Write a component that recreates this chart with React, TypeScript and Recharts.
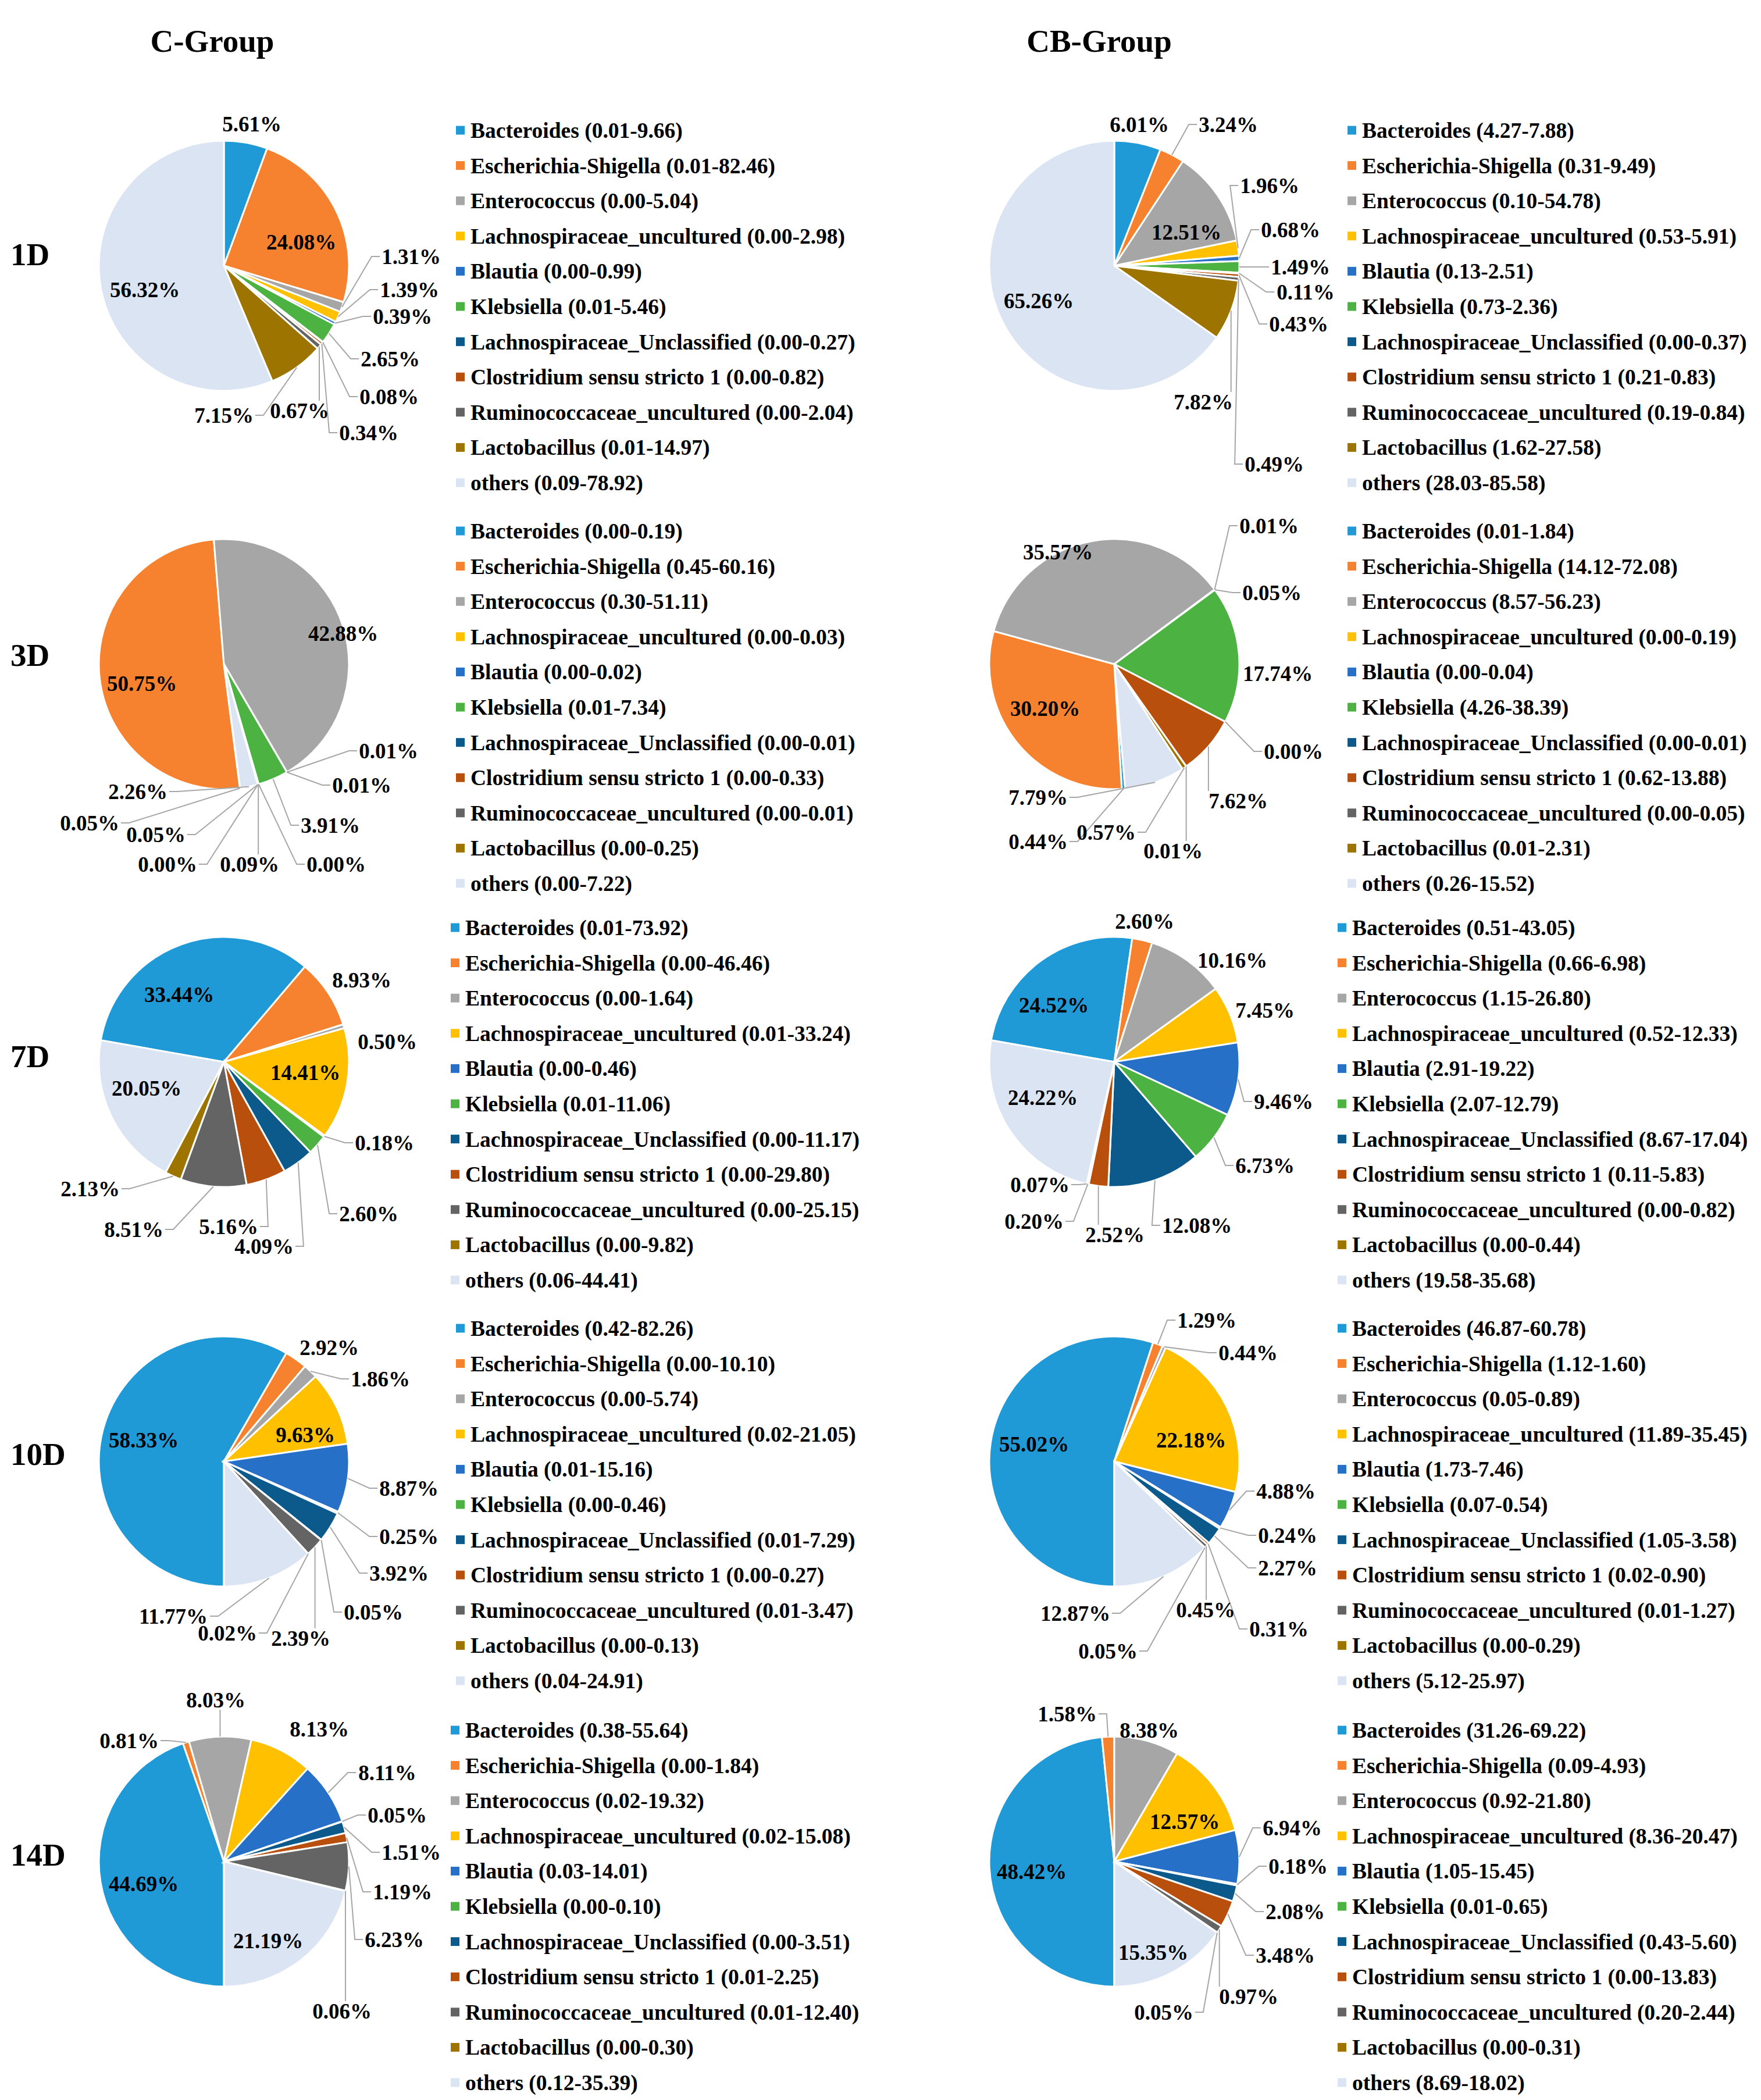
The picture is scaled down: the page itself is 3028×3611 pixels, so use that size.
import React from "react";
import { PieChart, Pie, Cell } from "recharts";

// genera shown in every pie, in slice order (clockwise)
const TAXA = [
  "Bacteroides",
  "Escherichia-Shigella",
  "Enterococcus",
  "Lachnospiraceae_uncultured",
  "Blautia",
  "Klebsiella",
  "Lachnospiraceae_Unclassified",
  "Clostridium sensu stricto 1",
  "Ruminococcaceae_uncultured",
  "Lactobacillus",
  "others",
];

const TAXA_COLORS = [
  "#1f9ad6",
  "#f6822f",
  "#a6a6a6",
  "#ffc000",
  "#2670c8",
  "#4cb242",
  "#0c5a8c",
  "#b94f0c",
  "#646464",
  "#9e7400",
  "#dae4f3",
];

const GROUPS = ["C-Group", "CB-Group"];
const DAYS = ["1D", "3D", "7D", "10D", "14D"];

// mean relative abundance (%)
const C_1D = [5.61, 24.08, 1.31, 1.39, 0.39, 2.65, 0.08, 0.34, 0.67, 7.15, 56.32];
const CB_1D = [6.01, 3.24, 12.51, 1.96, 0.68, 1.49, 0.11, 0.43, 0.49, 7.82, 65.26];
const C_3D = [0.05, 50.75, 42.88, 0.01, 0.01, 3.91, 0.0, 0.09, 0.0, 0.05, 2.26];
const CB_3D = [0.44, 30.2, 35.57, 0.01, 0.05, 17.74, 0.0, 7.62, 0.01, 0.57, 7.79];
const C_7D = [33.44, 8.93, 0.5, 14.41, 0.18, 2.6, 4.09, 5.16, 8.51, 2.13, 20.05];
const CB_7D = [24.52, 2.6, 10.16, 7.45, 9.46, 6.73, 12.08, 2.52, 0.2, 0.07, 24.22];
const C_10D = [58.33, 2.92, 1.86, 9.63, 8.87, 0.25, 3.92, 0.05, 2.39, 0.02, 11.77];
const CB_10D = [55.02, 1.29, 0.44, 22.18, 4.88, 0.24, 2.27, 0.31, 0.45, 0.05, 12.87];
const C_14D = [44.69, 0.81, 8.03, 8.13, 8.11, 0.05, 1.51, 1.19, 6.23, 0.06, 21.19];
const CB_14D = [48.42, 1.58, 8.38, 12.57, 6.94, 0.18, 2.08, 3.48, 0.97, 0.05, 15.35];

// ranges printed in the legends
const C_1D_RANGE = ["0.01-9.66", "0.01-82.46", "0.00-5.04", "0.00-2.98", "0.00-0.99", "0.01-5.46", "0.00-0.27", "0.00-0.82", "0.00-2.04", "0.01-14.97", "0.09-78.92"];
const CB_1D_RANGE = ["4.27-7.88", "0.31-9.49", "0.10-54.78", "0.53-5.91", "0.13-2.51", "0.73-2.36", "0.00-0.37", "0.21-0.83", "0.19-0.84", "1.62-27.58", "28.03-85.58"];
const C_3D_RANGE = ["0.00-0.19", "0.45-60.16", "0.30-51.11", "0.00-0.03", "0.00-0.02", "0.01-7.34", "0.00-0.01", "0.00-0.33", "0.00-0.01", "0.00-0.25", "0.00-7.22"];
const CB_3D_RANGE = ["0.01-1.84", "14.12-72.08", "8.57-56.23", "0.00-0.19", "0.00-0.04", "4.26-38.39", "0.00-0.01", "0.62-13.88", "0.00-0.05", "0.01-2.31", "0.26-15.52"];
const C_7D_RANGE = ["0.01-73.92", "0.00-46.46", "0.00-1.64", "0.01-33.24", "0.00-0.46", "0.01-11.06", "0.00-11.17", "0.00-29.80", "0.00-25.15", "0.00-9.82", "0.06-44.41"];
const CB_7D_RANGE = ["0.51-43.05", "0.66-6.98", "1.15-26.80", "0.52-12.33", "2.91-19.22", "2.07-12.79", "8.67-17.04", "0.11-5.83", "0.00-0.82", "0.00-0.44", "19.58-35.68"];
const C_10D_RANGE = ["0.42-82.26", "0.00-10.10", "0.00-5.74", "0.02-21.05", "0.01-15.16", "0.00-0.46", "0.01-7.29", "0.00-0.27", "0.01-3.47", "0.00-0.13", "0.04-24.91"];
const CB_10D_RANGE = ["46.87-60.78", "1.12-1.60", "0.05-0.89", "11.89-35.45", "1.73-7.46", "0.07-0.54", "1.05-3.58", "0.02-0.90", "0.01-1.27", "0.00-0.29", "5.12-25.97"];
const C_14D_RANGE = ["0.38-55.64", "0.00-1.84", "0.02-19.32", "0.02-15.08", "0.03-14.01", "0.00-0.10", "0.00-3.51", "0.01-2.25", "0.01-12.40", "0.00-0.30", "0.12-35.39"];
const CB_14D_RANGE = ["31.26-69.22", "0.09-4.93", "0.92-21.80", "8.36-20.47", "1.05-15.45", "0.01-0.65", "0.43-5.60", "0.00-13.83", "0.20-2.44", "0.00-0.31", "8.69-18.02"];

// where each data label sits, relative to its pie centre (px)
const LABEL_SPOTS: Record<string, number[][]> = {
  C_1D: [[48, -244], [133, -41], [322, -16], [319, 41], [307, 87], [286, 160], [284, 225], [249, 287], [130, 249], [0, 257], [-136, 41]],
  CB_1D: [[43, -243], [196, -243], [124, -58], [267, -138], [303, -62], [320, 2], [329, 45], [317, 100], [275, 341], [153, 234], [-130, 60]],
  C_3D: [[-231, 273], [-141, 33], [205, -53], [283, 149], [237, 208], [183, 277], [193, 344], [44, 344], [-97, 344], [-117, 293], [-148, 219]],
  CB_3D: [[-131, 305], [-119, 76], [-97, -193], [266, -238], [271, -123], [281, 16], [308, 150], [213, 235], [101, 321], [-14, 289], [-131, 229]],
  C_7D: [[-77, -116], [237, -141], [281, -35], [140, 18], [276, 139], [249, 261], [69, 317], [8, 283], [-155, 288], [-230, 218], [-133, 45]],
  CB_7D: [[-104, -98], [52, -242], [203, -175], [259, -89], [291, 68], [259, 178], [142, 281], [1, 297], [-138, 274], [-128, 211], [-123, 61]],
  C_10D: [[-138, -37], [181, -196], [269, -142], [140, -46], [318, 46], [318, 129], [301, 192], [257, 259], [132, 304], [6, 295], [-87, 266]],
  CB_10D: [[-138, -30], [159, -243], [230, -187], [132, -37], [295, 51], [298, 127], [298, 183], [283, 288], [157, 255], [-11, 326], [-67, 261]],
  C_14D: [[-138, 38], [-163, -208], [-14, -278], [164, -228], [281, -153], [298, -80], [322, -16], [307, 52], [293, 134], [203, 257], [76, 136]],
  CB_14D: [[-142, 17], [-81, -254], [60, -226], [121, -69], [306, -58], [316, 8], [311, 86], [294, 161], [231, 232], [85, 259], [67, 156]],
};

// first slice angle, clockwise from 12 o'clock
const PANELS = [
  { key: "C_1D", group: 0, row: 0, values: C_1D, ranges: C_1D_RANGE, first: 0 },
  { key: "CB_1D", group: 1, row: 0, values: CB_1D, ranges: CB_1D_RANGE, first: 0 },
  { key: "C_3D", group: 0, row: 1, values: C_3D, ranges: C_3D_RANGE, first: 172.5 },
  { key: "CB_3D", group: 1, row: 1, values: CB_3D, ranges: CB_3D_RANGE, first: 175 },
  { key: "C_7D", group: 0, row: 2, values: C_7D, ranges: C_7D_RANGE, first: 280 },
  { key: "CB_7D", group: 1, row: 2, values: CB_7D, ranges: CB_7D_RANGE, first: 280 },
  { key: "C_10D", group: 0, row: 3, values: C_10D, ranges: C_10D_RANGE, first: 180 },
  { key: "CB_10D", group: 1, row: 3, values: CB_10D, ranges: CB_10D_RANGE, first: 180 },
  { key: "C_14D", group: 0, row: 4, values: C_14D, ranges: C_14D_RANGE, first: 180 },
  { key: "CB_14D", group: 1, row: 4, values: CB_14D, ranges: CB_14D_RANGE, first: 180 },
];

const W = 3028;
const H = 3611;
const FONT = "'Liberation Serif', 'Times New Roman', serif";
const PIE_X = [380, 1911];
const PIE_Y = [452, 1137, 1821, 2508, 3196];
const RADIUS = 215;
const LABEL_FONT = 37;
const LEGEND_FONT = 37.5;
const LEGEND_X = [
  [784, 784, 775, 784, 775],
  [2317, 2317, 2300, 2300, 2300],
];
const LEGEND_Y = [224, 913, 1595, 2284, 2975];
const LEGEND_STEP = 60.6;
const ROW_LABEL_Y = [456, 1145, 1835, 2519, 3208];
const RAD = Math.PI / 180;

const makeLabel = (values: number[], spots: number[][]) => (props: any) => {
  const { cx, cy, midAngle, outerRadius, index } = props;
  const spot = spots[index];
  if (!spot) return null;
  const text = `${values[index].toFixed(2)}%`;
  const lx = cx + spot[0];
  const ly = cy + spot[1];
  const halfW = ((text.length === 6 ? 3.25 : 2.75) * LABEL_FONT) / 2 + 3;
  const halfH = LABEL_FONT * 0.46;
  const px = cx + outerRadius * Math.cos(-midAngle * RAD);
  const py = cy + outerRadius * Math.sin(-midAngle * RAD);
  const dx = px < lx - halfW ? lx - halfW - px : px > lx + halfW ? px - lx - halfW : 0;
  const dy = py < ly - halfH ? ly - halfH - py : py > ly + halfH ? py - ly - halfH : 0;
  const inside = Math.hypot(spot[0], spot[1]) < outerRadius * 0.8;

  let line = null;
  if (!inside && Math.hypot(dx, dy) > 25) {
    let pts: number[][];
    if (px < lx - halfW) {
      const ax = lx - halfW;
      pts = [[px, py], [ax - 14, ly], [ax, ly]];
    } else if (px > lx + halfW) {
      const ax = lx + halfW;
      pts = [[px, py], [ax + 14, ly], [ax, ly]];
    } else {
      const ay = py < ly ? ly - halfH : ly + halfH;
      pts = [[px, py], [px, ay]];
    }
    line = (
      <polyline
        points={pts.map((p) => p.join(",")).join(" ")}
        fill="none"
        stroke="#a6a6a6"
        strokeWidth={2}
      />
    );
  }

  return (
    <g>
      {line}
      <text
        x={lx}
        y={ly + LABEL_FONT * 0.34}
        textAnchor="middle"
        fill="#000"
        stroke="none"
        style={{ fontFamily: FONT, fontWeight: "bold", fontSize: LABEL_FONT }}
      >
        {text}
      </text>
    </g>
  );
};

const App: React.FC = () => {
  return (
    <div style={{ position: "relative", width: W, height: H, background: "#ffffff" }}>
      <style>{"body{margin:0;}"}</style>

      {/* Pies */}
      <div style={{ position: "absolute", left: 0, top: 0 }}>
        <PieChart width={W} height={H}>
          {PANELS.map((p) => {
            const data = TAXA.map((name, i) => ({ name, value: p.values[i] }));
            const start = 90 - p.first;
            return (
              <Pie
                key={p.key}
                data={data}
                dataKey="value"
                nameKey="name"
                cx={PIE_X[p.group]}
                cy={PIE_Y[p.row]}
                outerRadius={RADIUS}
                startAngle={start}
                endAngle={start - 360}
                stroke="#ffffff"
                strokeWidth={3}
                labelLine={false}
                label={makeLabel(p.values, LABEL_SPOTS[p.key])}
                isAnimationActive={false}
              >
                {data.map((d, i) => (
                  <Cell key={`cell-${i}`} fill={TAXA_COLORS[i]} />
                ))}
              </Pie>
            );
          })}
        </PieChart>
      </div>

      {/* Titles, row labels and legends */}
      <svg
        width={W}
        height={H}
        style={{ position: "absolute", left: 0, top: 0, pointerEvents: "none" }}
      >
        <g style={{ fontFamily: FONT, fontWeight: "bold" }}>
          <text x={365} y={89} textAnchor="middle" fontSize={55}>
            {GROUPS[0]}
          </text>
          <text x={1890} y={89} textAnchor="middle" fontSize={55}>
            {GROUPS[1]}
          </text>
          {DAYS.map((d, r) => (
            <text key={d} x={18} y={ROW_LABEL_Y[r]} fontSize={55}>
              {d}
            </text>
          ))}
          {PANELS.map((p) => {
            const sx = LEGEND_X[p.group][p.row];
            return (
              <g key={`legend-${p.key}`}>
                {TAXA.map((t, i) => {
                  const y = LEGEND_Y[p.row] + i * LEGEND_STEP;
                  return (
                    <g key={t}>
                      <rect x={sx} y={y - 7.5} width={15} height={15} fill={TAXA_COLORS[i]} />
                      <text x={sx + 25} y={y + 13} fontSize={LEGEND_FONT} fill="#000">
                        {`${t} (${p.ranges[i]})`}
                      </text>
                    </g>
                  );
                })}
              </g>
            );
          })}
        </g>
      </svg>
    </div>
  );
};

export default App;
